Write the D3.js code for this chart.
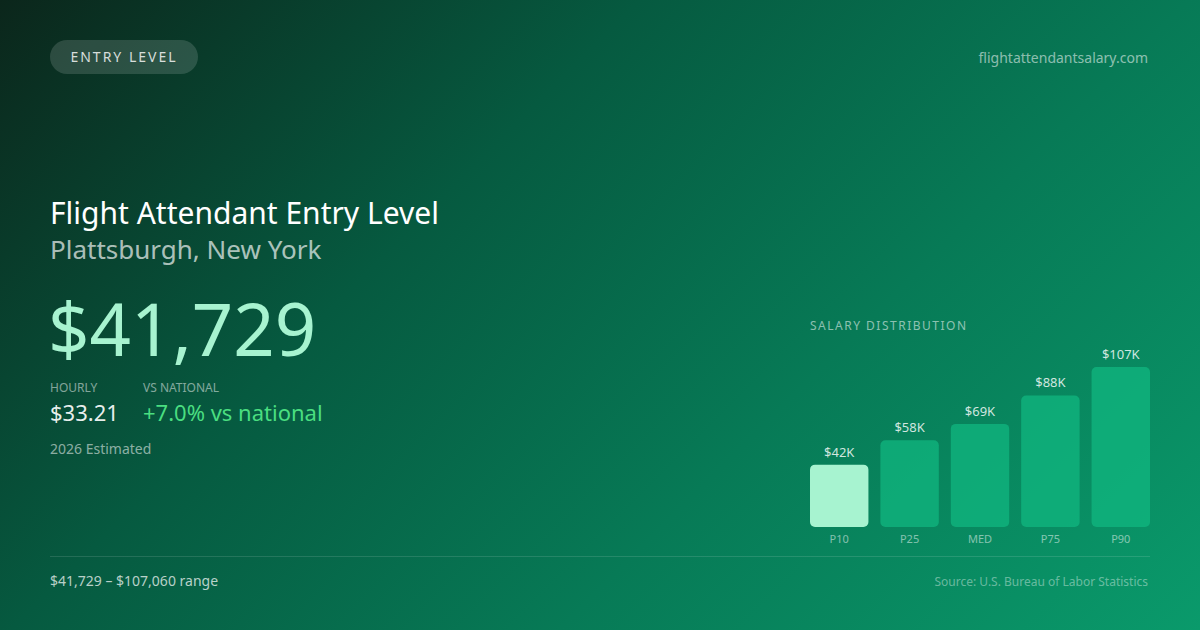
<!DOCTYPE html>
<html>
<head>
<meta charset="utf-8">
<script src="https://cdn.jsdelivr.net/npm/d3@7"></script>
<style>
  html, body { margin: 0; padding: 0; background: #0b261b; }
  svg { display: block; font-family: "Noto Sans", "Open Sans", sans-serif; }
</style>
</head>
<body>
<svg id="card" width="1200" height="630"></svg>
<script>
// salary percentiles
const percentiles = ['P10', 'P25', 'MED', 'P75', 'P90'];
const salaries = [41729, 58000, 69000, 88000, 107060];
const barLabels = ['$42K', '$58K', '$69K', '$88K', '$107K'];

const svg = d3.select('#card');
const W = 1200, H = 630;

// background gradient
let defs = svg.append('defs');
let bg = defs.append('linearGradient')
  .attr('id', 'bg')
  .attr('gradientUnits', 'userSpaceOnUse')
  .attr('x1', 600 - 0.707 * 647).attr('y1', 315 - 0.707 * 647)
  .attr('x2', 600 + 0.707 * 647).attr('y2', 315 + 0.707 * 647);
[['0%', '#0b261b'], ['35%', '#065a40'], ['65%', '#077a56'], ['100%', '#0a9a6b']]
  .forEach(([o, c]) => bg.append('stop').attr('offset', o).attr('stop-color', c));

svg.append('rect').attr('width', W).attr('height', H).attr('fill', 'url(#bg)');

// pill
svg.append('rect')
  .attr('x', 50).attr('y', 40).attr('width', 148).attr('height', 34).attr('rx', 17)
  .attr('fill', 'rgba(255,255,255,0.14)');
svg.append('text')
  .attr('x', 124).attr('y', 62).attr('text-anchor', 'middle')
  .attr('font-size', 14).attr('letter-spacing', 2)
  .attr('fill', 'rgba(255,255,255,0.82)')
  .text('ENTRY LEVEL');

svg.append('text')
  .attr('x', 1148).attr('y', 63).attr('text-anchor', 'end')
  .attr('font-size', 14).attr('fill', 'rgba(255,255,255,0.55)')
  .text('flightattendantsalary.com');

// headings
svg.append('text')
  .attr('x', 50).attr('y', 224)
  .attr('font-size', 30).attr('fill', '#ffffff')
  .text('Flight Attendant Entry Level');
svg.append('text')
  .attr('x', 50).attr('y', 259)
  .attr('font-size', 26).attr('fill', 'rgba(255,255,255,0.68)')
  .text('Plattsburgh, New York');

svg.append('text')
  .attr('x', 48).attr('y', 356)
  .attr('font-size', 72.5).attr('fill', '#a7f3d0')
  .text('$41,729');

svg.append('text')
  .attr('x', 50).attr('y', 392)
  .attr('font-size', 12).attr('fill', 'rgba(255,255,255,0.5)')
  .text('HOURLY');
svg.append('text')
  .attr('x', 143).attr('y', 392)
  .attr('font-size', 12).attr('fill', 'rgba(255,255,255,0.5)')
  .text('VS NATIONAL');
svg.append('text')
  .attr('x', 50).attr('y', 421)
  .attr('font-size', 22).attr('fill', 'rgba(255,255,255,0.92)')
  .text('$33.21');
svg.append('text')
  .attr('x', 143).attr('y', 421)
  .attr('font-size', 22).attr('fill', '#4ade80')
  .text('+7.0% vs national');
svg.append('text')
  .attr('x', 50).attr('y', 454)
  .attr('font-size', 14).attr('fill', 'rgba(255,255,255,0.55)')
  .text('2026 Estimated');

// chart
svg.append('text')
  .attr('x', 810).attr('y', 330)
  .attr('font-size', 12).attr('letter-spacing', 1.5)
  .attr('fill', 'rgba(255,255,255,0.55)')
  .text('SALARY DISTRIBUTION');

let x = d3.scaleBand().domain(percentiles).range([810, 1150]).paddingInner(0.17).paddingOuter(0);
let y = d3.scaleLinear().domain([0, d3.max(salaries)]).range([527, 367]);

let g = svg.append('g');
percentiles.forEach((p, i) => {
  g.append('rect')
    .attr('x', x(p)).attr('y', y(salaries[i]))
    .attr('width', x.bandwidth()).attr('height', y(0) - y(salaries[i]))
    .attr('rx', 5)
    .attr('fill', i === 0 ? '#a7f3d0' : 'rgba(16,185,129,0.72)');
  g.append('text')
    .attr('x', x(p) + x.bandwidth() / 2).attr('y', y(salaries[i]) - 8)
    .attr('text-anchor', 'middle').attr('font-size', 13)
    .attr('fill', 'rgba(255,255,255,0.82)')
    .text(barLabels[i]);
  g.append('text')
    .attr('x', x(p) + x.bandwidth() / 2).attr('y', 543)
    .attr('text-anchor', 'middle').attr('font-size', 11)
    .attr('fill', 'rgba(255,255,255,0.5)')
    .text(p);
});

// footer
svg.append('line')
  .attr('x1', 50).attr('x2', 1150).attr('y1', 556.5).attr('y2', 556.5)
  .attr('stroke', 'rgba(255,255,255,0.12)');
svg.append('text')
  .attr('x', 50).attr('y', 586)
  .attr('font-size', 14).attr('fill', 'rgba(255,255,255,0.72)')
  .text('$41,729 – $107,060 range');
svg.append('text')
  .attr('x', 1148).attr('y', 586).attr('text-anchor', 'end')
  .attr('font-size', 12).attr('fill', 'rgba(255,255,255,0.4)')
  .text('Source: U.S. Bureau of Labor Statistics');
</script>
</body>
</html>
